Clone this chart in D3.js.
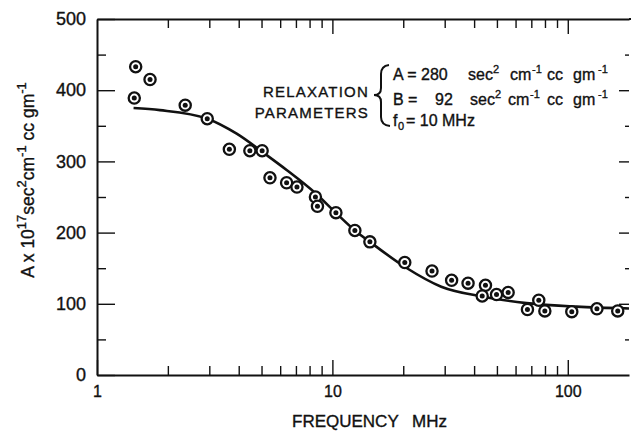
<!DOCTYPE html>
<html>
<head>
<meta charset="utf-8">
<script src="https://cdn.jsdelivr.net/npm/d3@7"></script>
<style>
html, body { margin: 0; padding: 0; background: #fff; }
svg { display: block; font-family: "Liberation Sans", Arial, sans-serif; }
svg text { stroke: #111; stroke-width: 0.35px; }
</style>
</head>
<body>
<svg></svg>
<script>
const width = 631;
const height = 431;
const frameLeft = 97;
const frameRight = 629;
const frameTop = 19;
const frameBottom = 375;
const ink = '#111';

// measured points (frequency in MHz, A x 10^17)
const pointFreq = [1.46, 1.68, 1.44, 2.37, 2.94, 3.65, 4.46, 5.03, 5.43, 6.39,
	7.07, 8.47, 8.64, 10.35, 12.46, 14.43, 20.3, 26.5, 32.1, 37.7,
	44.7, 43.3, 49.8, 55.8, 75.3, 67.4, 79.9, 104, 133, 163];
const pointA = [433, 415, 389, 379, 360, 317, 315, 315, 277, 270,
	264, 250, 237, 228, 203, 187, 158, 146, 133, 129,
	126, 111, 113, 116, 105, 92, 90, 89, 93, 90];

// relaxation curve
const curveFreq = [1.43, 1.85, 2.94, 3.92, 5.25, 6.39, 8.43, 10.4, 12.46, 14.43, 20.5, 29, 43.7, 66.8, 109, 182];
const curveA = [375, 372, 360, 339, 309, 288, 256, 227, 203, 187, 151, 124, 110, 101, 96, 93.5];

const yMajor = [0, 100, 200, 300, 400, 500];
const yMinor = [50, 150, 250, 350, 450];
const xMajor = [1, 10, 100];
const xMinor = [2, 3, 4, 5, 6, 7, 8, 9, 20, 30, 40, 50, 60, 70, 80, 90];

var svg;
var x;
var y;

function styleAxis(g, fontSize){
	g.attr('font-family', null).attr('font-size', null);
	g.selectAll('.domain').attr('stroke', ink).attr('stroke-width', 2);
	g.selectAll('.tick line').attr('stroke', ink).attr('stroke-width', 1.4);
	g.selectAll('.tick text').attr('fill', ink).style('font-size', fontSize + 'px');
}

function writeParts(yPos, parts, size){
	// parts: [text, x, kind] kind = '' | 'sup' | 'sub'
	var t = svg.append('text').attr('y', yPos).attr('fill', ink).style('font-size', size + 'px');
	for(var p of parts){
		var s = t.append('tspan').attr('x', p[1]).attr('y', yPos).text(p[0]);
		if(p[2] == 'sup') s.attr('y', yPos - 7).style('font-size', (size - 5) + 'px');
		if(p[2] == 'sub') s.attr('y', yPos + 4).style('font-size', (size - 5) + 'px');
	}
}

function init(){
	svg = d3.select('svg').attr('width', width).attr('height', height);
	svg.append('rect').attr('width', width).attr('height', height).attr('fill', '#fff');

	x = d3.scaleLog().domain([1, 182]).range([frameLeft, frameRight]);
	y = d3.scaleLinear().domain([0, 500]).range([frameBottom, frameTop]);

	// left axis
	svg.append('g').attr('transform', `translate(${frameLeft},0)`)
	.call(d3.axisLeft(y).tickValues(yMajor).tickSize(-18).tickSizeOuter(0).tickPadding(11))
	.call(g => styleAxis(g, 18));
	svg.append('g').attr('transform', `translate(${frameLeft},0)`)
	.call(d3.axisLeft(y).tickValues(yMinor).tickSize(-9).tickFormat(''))
	.call(g => styleAxis(g, 18)).select('.domain').remove();

	// right axis (frame edge cut off)
	svg.append('g').attr('transform', `translate(${frameRight},0)`)
	.call(d3.axisRight(y).tickValues(yMajor.slice(1, 5)).tickSize(-10).tickFormat(''))
	.call(g => styleAxis(g, 18)).select('.domain').remove();
	svg.append('g').attr('transform', `translate(${frameRight},0)`)
	.call(d3.axisRight(y).tickValues(yMinor).tickSize(-4).tickFormat(''))
	.call(g => styleAxis(g, 18)).select('.domain').remove();

	// bottom axis
	svg.append('g').attr('transform', `translate(0,${frameBottom})`)
	.call(d3.axisBottom(x).tickValues(xMajor).tickSize(-15).tickSizeOuter(0).tickPadding(11).tickFormat(d3.format('d')))
	.call(g => styleAxis(g, 16));
	svg.append('g').attr('transform', `translate(0,${frameBottom})`)
	.call(d3.axisBottom(x).tickValues(xMinor).tickSize(-9).tickFormat(''))
	.call(g => styleAxis(g, 16)).select('.domain').remove();

	// top axis
	svg.append('g').attr('transform', `translate(0,${frameTop})`)
	.call(d3.axisTop(x).tickValues(xMajor.slice(1)).tickSize(-15).tickSizeOuter(0).tickFormat(''))
	.call(g => styleAxis(g, 16));
	svg.append('g').attr('transform', `translate(0,${frameTop})`)
	.call(d3.axisTop(x).tickValues(xMinor).tickSize(-9).tickFormat(''))
	.call(g => styleAxis(g, 16)).select('.domain').remove();
	svg.append('line').attr('x1', frameRight).attr('x2', width)
	.attr('y1', frameTop).attr('y2', frameTop).attr('stroke', ink).attr('stroke-width', 2);

	// fitted curve
	var line = d3.line().x(d => x(d[0])).y(d => y(d[1])).curve(d3.curveMonotoneX);
	svg.append('path').datum(d3.zip(curveFreq, curveA))
	.attr('d', line).attr('fill', 'none').attr('stroke', ink).attr('stroke-width', 2.6);

	// data points
	var pts = svg.append('g').selectAll('g.pt').data(d3.zip(pointFreq, pointA)).enter().append('g')
	.classed('pt', true).attr('transform', d => `translate(${x(d[0])},${y(d[1])})`);
	pts.append('circle').attr('r', 5.6).attr('fill', '#fff').attr('stroke', ink).attr('stroke-width', 2.3);
	pts.append('circle').attr('r', 2.5).attr('fill', ink);

	// axis titles
	var xt = svg.append('text').attr('y', 427).attr('fill', ink).style('font-size', '17px');
	xt.append('tspan').attr('x', 292).text('FREQUENCY');
	xt.append('tspan').attr('x', 412).text('MHz');

	var yt = svg.append('text').attr('transform', 'translate(34,180) rotate(-90)')
	.attr('text-anchor', 'middle').attr('fill', ink).style('font-size', '17.5px');
	yt.append('tspan').text('A x 10');
	yt.append('tspan').attr('dy', -8).style('font-size', '13px').text('17');
	yt.append('tspan').attr('dy', 8).text('sec');
	yt.append('tspan').attr('dy', -8).style('font-size', '13px').text('2');
	yt.append('tspan').attr('dy', 8).text('cm');
	yt.append('tspan').attr('dy', -8).style('font-size', '13px').text('-1');
	yt.append('tspan').attr('dy', 8).text(' cc gm');
	yt.append('tspan').attr('dy', -8).style('font-size', '13px').text('-1');

	// relaxation parameters note
	svg.append('text').attr('x', 369).attr('y', 97).attr('text-anchor', 'end').attr('fill', ink)
	.style('font-size', '15px').style('letter-spacing', '1.2px').text('RELAXATION');
	svg.append('text').attr('x', 369).attr('y', 118).attr('text-anchor', 'end').attr('fill', ink)
	.style('font-size', '15px').style('letter-spacing', '1.2px').text('PARAMETERS');

	var brace = d3.path();
	brace.moveTo(389, 65);
	brace.quadraticCurveTo(381, 66, 381, 74);
	brace.lineTo(381, 88);
	brace.quadraticCurveTo(381, 95, 374, 95);
	brace.quadraticCurveTo(381, 95, 381, 102);
	brace.lineTo(381, 117);
	brace.quadraticCurveTo(381, 125, 390, 126);
	svg.append('path').attr('d', brace.toString()).attr('fill', 'none').attr('stroke', ink).attr('stroke-width', 2);

	writeParts(80, [['A = 280', 393, ''], ['sec', 468, ''], ['2', 493, 'sup'], ['cm', 510, ''], ['-1', 532, 'sup'],
		['cc', 547, ''], ['gm', 573, ''], ['-1', 598, 'sup']], 16);
	writeParts(105, [['B =', 393, ''], ['92', 435, ''], ['sec', 470, ''], ['2', 495, 'sup'], ['cm', 508, ''], ['-1', 530, 'sup'],
		['cc', 547, ''], ['gm', 573, ''], ['-1', 598, 'sup']], 16);
	writeParts(126, [['f', 393, ''], ['0', 398, 'sub'], ['= 10 MHz', 406, '']], 16);
}

init();
</script>
</body>
</html>
